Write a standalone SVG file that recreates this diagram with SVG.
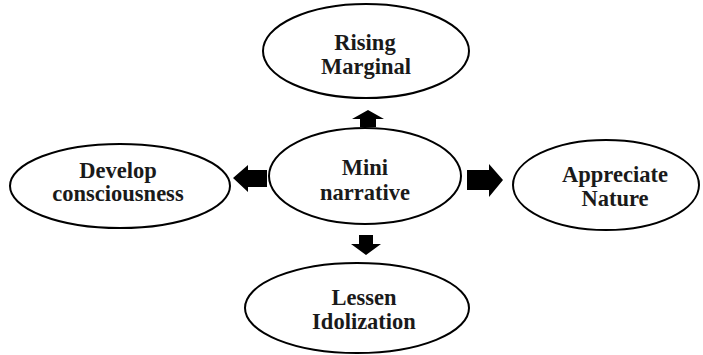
<svg xmlns="http://www.w3.org/2000/svg" width="703" height="355" viewBox="0 0 703 355">
<style>
.n{fill:#fff;stroke:#000;stroke-width:2}
.t{font-family:"Liberation Serif","DejaVu Serif",serif;font-weight:bold;font-size:22.5px;text-anchor:middle;fill:#1a1a1a}
.a{fill:#000}
</style>
<rect width="703" height="355" fill="#fff"/>
<g id="connectors">
<polygon class="a" points="368,110 384,119 376,119 376,127 360,127 360,119 352,119"/>
<polygon class="a" points="233,178 248,165 248,170 267,170 267,187 248,187 248,192"/>
<polygon class="a" points="503,180 489,164 489,170 467,170 467,190 489,190 489,197"/>
<polygon class="a" points="366,255 351,244 359,244 359,235 373,235 373,244 381,244"/>
</g>
<g id="rising">
<ellipse class="n" cx="366" cy="51" rx="103" ry="47"/>
<text class="t" x="365" y="50">Rising</text>
<text class="t" x="366" y="74">Marginal</text>
</g>
<g id="mini">
<ellipse class="n" cx="365" cy="176" rx="96" ry="48"/>
<text class="t" x="365" y="175">Mini</text>
<text class="t" x="365" y="200">narrative</text>
</g>
<g id="develop">
<ellipse class="n" cx="120" cy="186" rx="110" ry="42"/>
<text class="t" x="118" y="178">Develop</text>
<text class="t" x="118" y="201">consciousness</text>
</g>
<g id="appreciate">
<ellipse class="n" cx="606" cy="185" rx="93" ry="45"/>
<text class="t" x="615" y="182">Appreciate</text>
<text class="t" x="615" y="206">Nature</text>
</g>
<g id="lessen">
<ellipse class="n" cx="357" cy="308" rx="112" ry="45"/>
<text class="t" x="364" y="305">Lessen</text>
<text class="t" x="364" y="329">Idolization</text>
</g>
</svg>
